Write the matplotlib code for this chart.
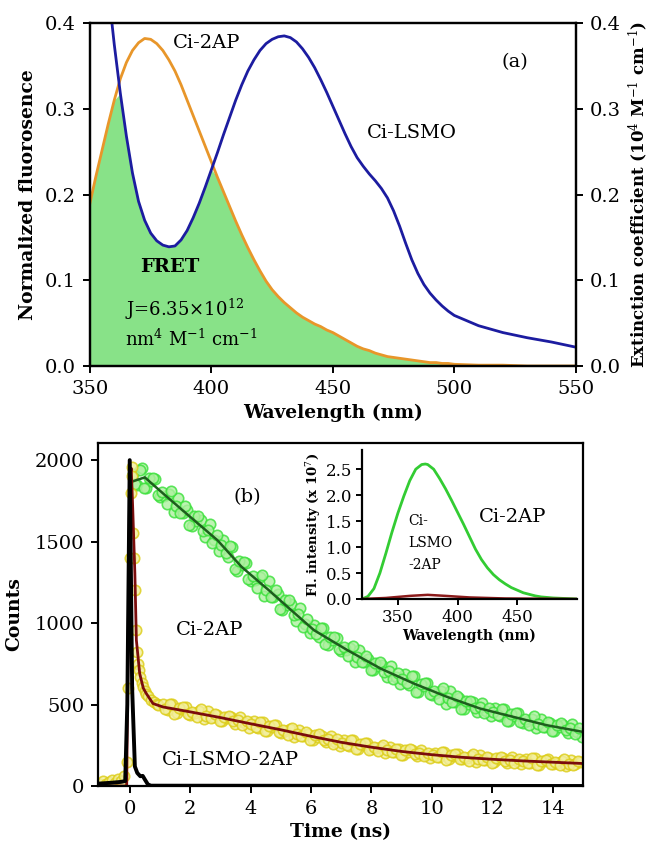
import numpy as np
import matplotlib
matplotlib.use("Agg")
import matplotlib.pyplot as plt

plt.rcParams['font.family'] = ['DejaVu Serif']
plt.rcParams['mathtext.fontset'] = 'dejavuserif'

# ---- panel (a): spectral overlap ----
wl = [350, 352.5, 355, 357.5, 360, 362.5, 365, 367.5, 370, 372.5, 375, 377.5, 380, 382.5,
      385, 387.5, 390, 392.5, 395, 397.5, 400, 402.5, 405, 407.5, 410, 412.5, 415, 417.5,
      420, 422.5, 425, 427.5, 430, 432.5, 435, 437.5, 440, 442.5, 445, 447.5, 450, 452.5,
      455, 457.5, 460, 462.5, 465, 467.5, 470, 472.5, 475, 477.5, 480, 482.5, 485, 487.5,
      490, 492.5, 495, 497.5, 500, 510, 520, 530, 540, 550]
ci_2ap_em = [0.190, 0.222, 0.252, 0.282, 0.310, 0.335, 0.354, 0.368, 0.377, 0.382, 0.381,
             0.376, 0.368, 0.357, 0.344, 0.328, 0.310, 0.292, 0.274, 0.256, 0.238, 0.220,
             0.203, 0.186, 0.169, 0.153, 0.138, 0.124, 0.111, 0.099, 0.089, 0.081, 0.074,
             0.068, 0.062, 0.057, 0.053, 0.049, 0.046, 0.042, 0.039, 0.035, 0.031, 0.027,
             0.023, 0.020, 0.018, 0.015, 0.013, 0.011, 0.010, 0.009, 0.008, 0.007, 0.006,
             0.005, 0.004, 0.004, 0.003, 0.003, 0.002, 0.001, 0.001, 0.0, 0.0, 0.0]
ci_lsmo_abs = [0.62, 0.56, 0.50, 0.44, 0.375, 0.318, 0.268, 0.225, 0.192, 0.170, 0.155,
               0.146, 0.141, 0.139, 0.140, 0.147, 0.158, 0.173, 0.190, 0.209, 0.229, 0.249,
               0.270, 0.290, 0.310, 0.328, 0.344, 0.357, 0.368, 0.376, 0.381, 0.384, 0.385,
               0.383, 0.378, 0.370, 0.360, 0.348, 0.334, 0.319, 0.303, 0.287, 0.271, 0.256,
               0.243, 0.233, 0.224, 0.216, 0.207, 0.196, 0.181, 0.163, 0.143, 0.124, 0.108,
               0.095, 0.085, 0.077, 0.070, 0.064, 0.059, 0.047, 0.039, 0.033, 0.028, 0.022]

# ---- panel (b): decay curves (counts vs ns) ----
# Ci-2AP, two interleaved sweeps of read points
green_counts = [1912, 1850, 1950, 1832, 1872, 1884, 1776, 1782, 1794, 1680, 1770, 1674,
                1692, 1596, 1626, 1632, 1530, 1608, 1512, 1445, 1510, 1407, 1466, 1322,
                1357, 1369, 1261, 1267, 1280, 1166, 1256, 1159, 1176, 1080, 1109, 1114,
                1012, 1090, 993, 936, 988, 917, 968, 866, 898, 909, 829, 834, 846, 763,
                833, 763, 780, 711, 736, 744, 672, 737, 670, 626, 686, 619, 674, 578, 616,
                631, 557, 568, 584, 506, 581, 517, 539, 475, 506, 518, 454, 508, 459, 428,
                477, 428, 473, 400, 431, 445, 389, 399, 413, 354, 413, 365, 384, 337, 363,
                375, 324, 379, 332, 303]
green_counts2 = [1851, 1939, 1828, 1891, 1890, 1788, 1806, 1728, 1812, 1716, 1674, 1716,
                 1602, 1656, 1656, 1566, 1572, 1494, 1542, 1478, 1428, 1476, 1331, 1378,
                 1375, 1273, 1291, 1214, 1298, 1202, 1160, 1201, 1086, 1140, 1139, 1048,
                 1054, 976, 1023, 964, 930, 972, 870, 912, 913, 838, 853, 796, 861, 791,
                 762, 797, 714, 757, 760, 697, 707, 654, 696, 655, 630, 676, 579, 627, 633,
                 563, 584, 532, 602, 537, 513, 553, 475, 524, 524, 476, 485, 445, 481, 452,
                 435, 474, 400, 439, 446, 393, 411, 372, 428, 379, 361, 394, 336, 376, 385,
                 341, 354, 317, 355]
green_t = np.linspace(0.1, 14.95, len(green_counts))
green_t2 = np.linspace(0.175, 14.875, len(green_counts2))

fit_g_t = [0.1, 0.5, 1.1, 2.0, 2.9, 3.7, 4.6, 5.4, 6.1, 7.2, 8.3, 9.4, 10.5, 11.6, 12.7, 13.8, 15.0]
fit_g = [1870, 1894, 1796, 1652, 1509, 1345, 1202, 1070, 956, 834, 721, 629, 547, 475, 424, 373, 332]

# Ci-LSMO-2AP
yel_early_t = [-1.0, -0.9, -0.8, -0.7, -0.6, -0.5, -0.4, -0.3, -0.2, -0.1, -0.05, 0.0, 0.03,
               0.06, 0.09, 0.12, 0.15, 0.18, 0.21, 0.24, 0.27, 0.3, 0.35, 0.4, 0.45, 0.5,
               0.55, 0.6, 0.7, 0.8, 0.9, 0.95]
yel_early = [15, 30, 10, 25, 35, 20, 40, 30, 60, 150, 600, 1400, 1800, 1960, 1900, 1550,
             1400, 1200, 960, 820, 750, 710, 670, 630, 610, 580, 565, 550, 530, 515, 505, 495]
yel_late = [505, 466, 503, 445, 471, 482, 438, 447, 458, 411, 459, 421, 435, 396, 415, 424,
            381, 423, 384, 359, 398, 359, 395, 336, 362, 372, 328, 336, 347, 299, 346, 307,
            320, 281, 301, 309, 267, 309, 269, 245, 285, 247, 284, 227, 253, 265, 225, 232,
            241, 204, 242, 211, 224, 193, 210, 218, 187, 221, 192, 173, 205, 177, 208, 163,
            185, 196, 163, 172, 183, 149, 189, 160, 174, 146, 164, 173, 144, 179, 152, 134,
            168, 141, 172, 129, 151, 164, 133, 143, 155, 120, 161, 133, 148]
yel_late2 = [471, 503, 444, 476, 482, 441, 455, 425, 470, 430, 418, 443, 396, 426, 432, 396,
             404, 372, 401, 378, 365, 395, 336, 366, 373, 331, 345, 314, 358, 318, 304, 329,
             281, 311, 317, 282, 290, 258, 286, 265, 252, 283, 226, 258, 265, 223, 238, 214,
             250, 220, 209, 229, 193, 219, 224, 197, 204, 183, 205, 190, 180, 207, 162, 189,
             195, 164, 177, 155, 194, 166, 157, 179, 144, 172, 179, 153, 162, 141, 166, 152,
             143, 171, 128, 155, 161, 133, 148, 126, 165, 138, 129, 153]
yel_t = np.concatenate([yel_early_t, np.linspace(1.1, 14.9, len(yel_late))])
yel_counts = np.concatenate([yel_early, yel_late])
yel_t2 = np.linspace(1.175, 14.825, len(yel_late2))

fit_r_t = [-1.0, -0.1, 0.0, 0.05, 0.1, 0.17, 0.22, 0.33, 0.45, 0.55, 0.77, 1.1, 2, 3, 4, 5,
           6, 7, 8, 9, 10, 11, 12, 13, 14, 15]
fit_r = [0, 0, 1900, 1950, 1700, 1305, 895, 690, 600, 567, 506, 485, 455, 420, 382, 345,
         305, 268, 238, 212, 192, 176, 164, 154, 146, 138]

# instrument response
irf_t = [-1.0, -0.6, -0.3, -0.15, -0.08, 0.0, 0.08, 0.17, 0.25, 0.35, 0.43, 0.5, 0.6, 0.7, 15.0]
irf = [15, 20, 25, 30, 500, 2000, 600, 120, 80, 60, 62, 40, 10, 2, 0]

# inset: steady-state emission (x 10^7)
ins_wl = [320, 325, 330, 335, 340, 345, 350, 355, 360, 365, 370, 373, 375, 380, 385, 390,
          395, 400, 405, 410, 415, 420, 425, 430, 435, 440, 445, 450, 455, 460, 465, 470,
          475, 480, 490, 500]
ins_ci2ap = [0.0, 0.05, 0.20, 0.50, 0.88, 1.28, 1.65, 1.98, 2.28, 2.50, 2.59, 2.60, 2.59,
             2.50, 2.32, 2.12, 1.90, 1.67, 1.44, 1.20, 0.96, 0.76, 0.60, 0.47, 0.37, 0.29,
             0.22, 0.17, 0.12, 0.09, 0.06, 0.04, 0.03, 0.02, 0.01, 0.0]
ins_red_wl = [320, 340, 360, 375, 390, 410, 440, 500]
ins_red = [0.0, 0.02, 0.06, 0.08, 0.06, 0.03, 0.01, 0.0]

fig = plt.figure(figsize=(6.52, 8.5), dpi=100)

def style(ax, size=14):
    for s in ax.spines.values():
        s.set_linewidth(1.6)
    ax.tick_params(direction='out', length=5, width=1.4, labelsize=size, pad=5)

# ---------- (a) ----------
ax1 = fig.add_axes([0.138, 0.5694, 0.745, 0.4035])
ax1r = ax1.twinx()
wl_a = np.array(wl)
em = np.array(ci_2ap_em)
ab = np.array(ci_lsmo_abs)
ax1.fill_between(wl_a, 0, np.minimum(em, ab), color='#88e288', lw=0)
ax1.plot(wl_a, em, color='#e8962a', lw=2)
ax1r.plot(wl_a, ab, color='#1c1ca0', lw=2)
for a in (ax1, ax1r):
    a.set_xlim(350, 550)
    a.set_ylim(0, 0.4)
    a.set_yticks(np.arange(0, 0.41, 0.1))
    a.set_yticklabels(['%.1f' % v for v in np.arange(0, 0.41, 0.1)])
    style(a)
ax1.set_xticks([350, 400, 450, 500, 550])
ax1.set_xlabel('Wavelength (nm)', fontsize=13.5, fontweight='bold', labelpad=4)
ax1.set_ylabel('Normalized fluorosence', fontsize=13.5, fontweight='bold', labelpad=6)
ax1r.set_ylabel('Extinction coefficient (10$^4$ M$^{-1}$ cm$^{-1}$)', fontsize=12,
                fontweight='bold', labelpad=4)
ax1.text(384, 0.377, 'Ci-2AP', fontsize=14, va='center')
ax1.text(525, 0.354, '(a)', fontsize=14, ha='center', va='center')
ax1.text(464, 0.272, 'Ci-LSMO', fontsize=14, va='center')
ax1.text(370.5, 0.115, 'FRET', fontsize=14, fontweight='bold', va='center')
ax1.text(364.5, 0.066, 'J=6.35×10$^{12}$', fontsize=13, va='center')
ax1.text(364.5, 0.031, 'nm$^4$ M$^{-1}$ cm$^{-1}$', fontsize=13, va='center')

# ---------- (b) ----------
ax2 = fig.add_axes([0.1503, 0.0753, 0.7439, 0.4035])
gkw = dict(ls='none', marker='o', ms=7.5, mfc='#aef0a0', mec='#38e038', mew=1.2, alpha=0.8)
ykw = dict(ls='none', marker='o', ms=7.5, mfc='#f2ee9c', mec='#dccc14', mew=1.2, alpha=0.8)
ax2.plot(green_t, green_counts, **gkw)
ax2.plot(green_t2, green_counts2, **gkw)
ax2.plot(yel_t, yel_counts, **ykw)
ax2.plot(yel_t2, yel_late2, **ykw)
ax2.plot(fit_g_t, fit_g, color='#1d5e1d', lw=1.8)
ax2.plot(fit_r_t, fit_r, color='#7a0c0c', lw=2)
ax2.plot(irf_t, irf, color='black', lw=2.8)
ax2.set_xlim(-1.05, 15)
ax2.set_ylim(0, 2105)
ax2.set_xticks(range(0, 15, 2))
ax2.set_yticks(range(0, 2001, 500))
style(ax2)
ax2.set_xlabel('Time (ns)', fontsize=13.5, fontweight='bold', labelpad=4)
ax2.set_ylabel('Counts', fontsize=13.5, fontweight='bold', labelpad=8)
ax2.text(3.9, 1775, '(b)', fontsize=14, ha='center', va='center')
ax2.text(1.54, 956, 'Ci-2AP', fontsize=14, va='center')
ax2.text(1.05, 158, 'Ci-LSMO-2AP', fontsize=14, va='center')

# inset
ax3 = fig.add_axes([0.5552, 0.2953, 0.3298, 0.1753])
ax3.plot(ins_wl, ins_ci2ap, color='#33cc33', lw=2)
ax3.plot(ins_red_wl, ins_red, color='#8b1a1a', lw=1.8)
ax3.set_xlim(320, 500)
ax3.set_ylim(0, 2.87)
ax3.set_xticks([350, 400, 450])
ax3.set_yticks(np.arange(0, 2.6, 0.5))
ax3.set_yticklabels(['%.1f' % v for v in np.arange(0, 2.6, 0.5)])
ax3.spines['top'].set_visible(False)
ax3.spines['right'].set_visible(False)
style(ax3, 12)
ax3.tick_params(length=4, pad=3)
ax3.set_xlabel('Wavelength (nm)', fontsize=10, fontweight='bold', labelpad=2)
ax3.set_ylabel('Fl. intensity (x 10$^7$)', fontsize=9.5, fontweight='bold', labelpad=2)
ax3.text(418, 1.58, 'Ci-2AP', fontsize=14, va='center')
ax3.text(359, 1.08, 'Ci-\nLSMO\n-2AP', fontsize=10, va='center', linespacing=1.7)

fig.savefig('out.png', dpi=100)
